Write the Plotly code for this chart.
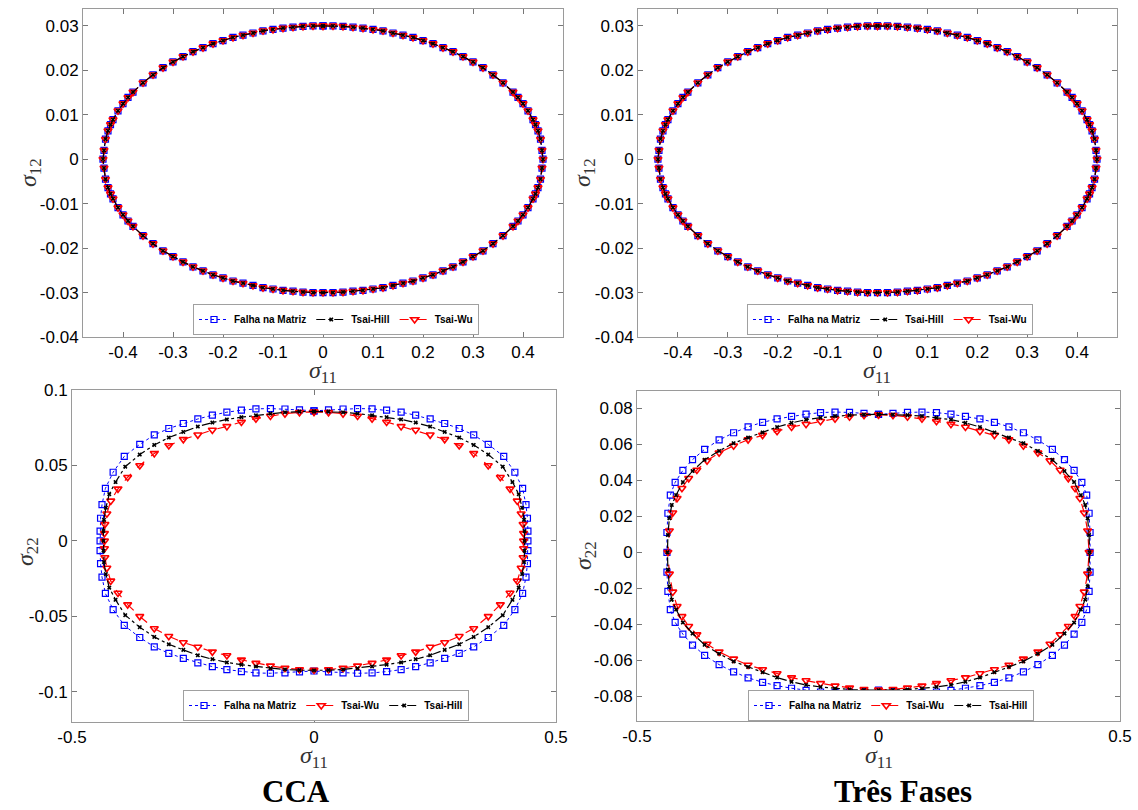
import plotly.graph_objects as go

# ---------------- data ----------------
# Top panels: sigma11 vs sigma12 envelope (the three criteria coincide)
s11_top = [0, .02, .04, .06, .08, .10, .12, .14, .16, .18, .20, .22, .24, .26, .28, .30, .32, .34, .36, .38, .39, .40, .41, .42, .425, .43, .435, .438, .44,
           .438, .435, .43, .425, .42, .41, .40, .39, .38, .36, .34, .32, .30, .28, .26, .24, .22, .20, .18, .16, .14, .12, .10, .08, .06, .04, .02, 0,
           -.02, -.04, -.06, -.08, -.10, -.12, -.14, -.16, -.18, -.20, -.22, -.24, -.26, -.28, -.30, -.32, -.34, -.36, -.38, -.39, -.40, -.41, -.42, -.425, -.43, -.435, -.438, -.44,
           -.438, -.435, -.43, -.425, -.42, -.41, -.40, -.39, -.38, -.36, -.34, -.32, -.30, -.28, -.26, -.24, -.22, -.20, -.18, -.16, -.14, -.12, -.10, -.08, -.06, -.04, -.02, 0]
s12_top = [.0300, .0300, .0299, .0297, .0295, .0292, .0289, .0284, .0279, .0274, .0267, .0260, .0251, .0242, .0231, .0219, .0206, .0190, .0172, .0151, .0139, .0125, .0109, .0089, .0078, .0064, .0045, .0020, 0,
           -.0020, -.0045, -.0064, -.0078, -.0089, -.0109, -.0125, -.0139, -.0151, -.0172, -.0190, -.0206, -.0219, -.0231, -.0242, -.0251, -.0260, -.0267, -.0274, -.0279, -.0284, -.0289, -.0292, -.0295, -.0297, -.0299, -.0300, -.0300,
           -.0300, -.0299, -.0297, -.0295, -.0292, -.0289, -.0284, -.0279, -.0274, -.0267, -.0260, -.0251, -.0242, -.0231, -.0219, -.0206, -.0190, -.0172, -.0151, -.0139, -.0125, -.0109, -.0089, -.0078, -.0064, -.0045, -.0020, 0,
           .0020, .0045, .0064, .0078, .0089, .0109, .0125, .0139, .0151, .0172, .0190, .0206, .0219, .0231, .0242, .0251, .0260, .0267, .0274, .0279, .0284, .0289, .0292, .0295, .0297, .0299, .0300, .0300]

# Bottom-left (CCA): sigma11 vs sigma22
cca_fm_s11 = [0, .03, .06, .09, .12, .15, .18, .21, .24, .27, .30, .33, .36, .392, .415, .431, .438, .441, .442, .442,
              .442, .441, .438, .431, .415, .392, .36, .33, .30, .27, .24, .21, .18, .15, .12, .09, .06, .03, 0,
              -.03, -.06, -.09, -.12, -.15, -.18, -.21, -.24, -.27, -.30, -.33, -.36, -.392, -.415, -.431, -.438, -.441, -.442, -.442,
              -.442, -.441, -.438, -.431, -.415, -.392, -.36, -.33, -.30, -.27, -.24, -.21, -.18, -.15, -.12, -.09, -.06, -.03, 0]
cca_fm_s22 = [.0862, .0868, .0874, .0877, .0875, .0866, .0853, .0833, .0808, .0778, .0745, .0702, .0640, .0560, .0455, .0348, .0240, .0150, .0065, 0,
              -.0065, -.0150, -.0240, -.0348, -.0455, -.0560, -.0640, -.0702, -.0745, -.0778, -.0808, -.0833, -.0853, -.0866, -.0875, -.0877, -.0874, -.0868, -.0862,
              -.0868, -.0874, -.0877, -.0875, -.0866, -.0853, -.0833, -.0808, -.0778, -.0745, -.0702, -.0640, -.0560, -.0455, -.0348, -.0240, -.0150, -.0065, 0,
              .0065, .0150, .0240, .0348, .0455, .0560, .0640, .0702, .0745, .0778, .0808, .0833, .0853, .0866, .0875, .0877, .0874, .0868, .0862]

cca_th_s11 = [0, .03, .06, .09, .12, .15, .18, .21, .24, .27, .30, .33, .36, .39, .41, .423, .430, .434, .435, .435,
              .435, .434, .430, .423, .41, .39, .36, .33, .30, .27, .24, .21, .18, .15, .12, .09, .06, .03, 0,
              -.03, -.06, -.09, -.12, -.15, -.18, -.21, -.24, -.27, -.30, -.33, -.36, -.39, -.41, -.423, -.430, -.434, -.435, -.435,
              -.435, -.434, -.430, -.423, -.41, -.39, -.36, -.33, -.30, -.27, -.24, -.21, -.18, -.15, -.12, -.09, -.06, -.03, 0]
cca_th_s22 = [.0858, .0857, .0852, .0844, .0832, .0820, .0805, .0784, .0758, .0722, .0685, .0636, .0572, .0492, .0390, .0310, .0220, .0140, .0065, 0,
              -.0065, -.0140, -.0220, -.0310, -.0390, -.0492, -.0572, -.0636, -.0685, -.0722, -.0758, -.0784, -.0805, -.0820, -.0832, -.0844, -.0852, -.0857, -.0858,
              -.0857, -.0852, -.0844, -.0832, -.0820, -.0805, -.0784, -.0758, -.0722, -.0685, -.0636, -.0572, -.0492, -.0390, -.0310, -.0220, -.0140, -.0065, 0,
              .0065, .0140, .0220, .0310, .0390, .0492, .0572, .0636, .0685, .0722, .0758, .0784, .0805, .0820, .0832, .0844, .0852, .0857, .0858]

cca_tw_s11 = [0, .03, .06, .09, .12, .15, .18, .21, .24, .27, .30, .33, .36, .385, .405, .420, .428, .432, .433, .433,
              .433, .432, .428, .420, .405, .385, .36, .33, .30, .27, .24, .21, .18, .15, .12, .09, .06, .03, 0,
              -.03, -.06, -.09, -.12, -.15, -.18, -.21, -.24, -.27, -.30, -.33, -.36, -.385, -.405, -.420, -.428, -.432, -.433, -.433,
              -.433, -.432, -.428, -.420, -.405, -.385, -.36, -.33, -.30, -.27, -.24, -.21, -.18, -.15, -.12, -.09, -.06, -.03, 0]
cca_tw_s22 = [.0855, .0852, .0843, .0828, .0810, .0788, .0759, .0735, .0703, .0673, .0632, .0580, .0500, .0422, .0345, .0265, .0180, .0110, .0050, 0,
              -.0050, -.0110, -.0180, -.0265, -.0345, -.0422, -.0500, -.0580, -.0632, -.0673, -.0703, -.0735, -.0759, -.0788, -.0810, -.0828, -.0843, -.0852, -.0855,
              -.0852, -.0843, -.0828, -.0810, -.0788, -.0759, -.0735, -.0703, -.0673, -.0632, -.0580, -.0500, -.0422, -.0345, -.0265, -.0180, -.0110, -.0050, 0,
              .0050, .0110, .0180, .0265, .0345, .0422, .0500, .0580, .0632, .0673, .0703, .0735, .0759, .0788, .0810, .0828, .0843, .0852, .0855]

# Bottom-right (Três Fases): sigma11 vs sigma22
tf_fm_s11 = [0, .03, .06, .09, .12, .15, .18, .21, .24, .27, .30, .33, .36, .385, .405, .421, .431, .436, .438, .438,
             .438, .436, .431, .421, .405, .385, .36, .33, .30, .27, .24, .21, .18, .15, .12, .09, .06, .03, 0,
             -.03, -.06, -.09, -.12, -.15, -.18, -.21, -.24, -.27, -.30, -.33, -.36, -.385, -.405, -.421, -.431, -.436, -.438, -.438,
             -.438, -.436, -.431, -.421, -.405, -.385, -.36, -.33, -.30, -.27, -.24, -.21, -.18, -.15, -.12, -.09, -.06, -.03, 0]
tf_fm_s22 = [.0766, .0772, .0777, .0779, .0776, .0767, .0755, .0741, .0722, .0697, .0664, .0624, .0572, .0515, .0455, .0389, .0318, .0217, .0110, 0,
             -.0110, -.0217, -.0318, -.0389, -.0455, -.0515, -.0572, -.0624, -.0664, -.0697, -.0722, -.0741, -.0755, -.0767, -.0776, -.0779, -.0777, -.0772, -.0766,
             -.0772, -.0777, -.0779, -.0776, -.0767, -.0755, -.0741, -.0722, -.0697, -.0664, -.0624, -.0572, -.0515, -.0455, -.0389, -.0318, -.0217, -.0110, 0,
             .0110, .0217, .0318, .0389, .0455, .0515, .0572, .0624, .0664, .0697, .0722, .0741, .0755, .0767, .0776, .0779, .0777, .0772, .0766]

tf_th_s11 = [0, .03, .06, .09, .12, .15, .18, .21, .24, .27, .30, .33, .36, .385, .405, .419, .428, .433, .436, .437,
             .436, .433, .428, .419, .405, .385, .36, .33, .30, .27, .24, .21, .18, .15, .12, .09, .06, .03, 0,
             -.03, -.06, -.09, -.12, -.15, -.18, -.21, -.24, -.27, -.30, -.33, -.36, -.385, -.405, -.419, -.428, -.433, -.436, -.437,
             -.436, -.433, -.428, -.419, -.405, -.385, -.36, -.33, -.30, -.27, -.24, -.21, -.18, -.15, -.12, -.09, -.06, -.03, 0]
tf_th_s22 = [.0766, .0765, .0762, .0757, .0748, .0737, .0719, .0696, .0666, .0637, .0606, .0563, .0514, .0451, .0390, .0318, .0263, .0189, .0096, 0,
             -.0096, -.0189, -.0263, -.0318, -.0390, -.0451, -.0514, -.0563, -.0606, -.0637, -.0666, -.0696, -.0719, -.0737, -.0748, -.0757, -.0762, -.0765, -.0766,
             -.0765, -.0762, -.0757, -.0748, -.0737, -.0719, -.0696, -.0666, -.0637, -.0606, -.0563, -.0514, -.0451, -.0390, -.0318, -.0263, -.0189, -.0096, 0,
             .0096, .0189, .0263, .0318, .0390, .0451, .0514, .0563, .0606, .0637, .0666, .0696, .0719, .0737, .0748, .0757, .0762, .0765, .0766]

tf_tw_s11 = [0, .03, .06, .09, .12, .15, .18, .21, .24, .27, .30, .33, .355, .376, .393, .407, .417, .426, .433, .436,
             .433, .426, .417, .407, .393, .376, .355, .33, .30, .27, .24, .21, .18, .15, .12, .09, .06, .03, 0,
             -.03, -.06, -.09, -.12, -.15, -.18, -.21, -.24, -.27, -.30, -.33, -.355, -.376, -.393, -.407, -.417, -.426, -.433, -.436,
             -.433, -.426, -.417, -.407, -.393, -.376, -.355, -.33, -.30, -.27, -.24, -.21, -.18, -.15, -.12, -.09, -.06, -.03, 0]
tf_tw_s22 = [.0764, .0761, .0753, .0742, .0728, .0712, .0696, .0673, .0651, .0626, .0592, .0553, .0509, .0457, .0411, .0356, .0300, .0220, .0120, 0,
             -.0120, -.0220, -.0300, -.0356, -.0411, -.0457, -.0509, -.0553, -.0592, -.0626, -.0651, -.0673, -.0696, -.0712, -.0728, -.0742, -.0753, -.0761, -.0764,
             -.0761, -.0753, -.0742, -.0728, -.0712, -.0696, -.0673, -.0651, -.0626, -.0592, -.0553, -.0509, -.0457, -.0411, -.0356, -.0300, -.0220, -.0120, 0,
             .0120, .0220, .0300, .0356, .0411, .0457, .0509, .0553, .0592, .0626, .0651, .0673, .0696, .0712, .0728, .0742, .0753, .0761, .0764]

# Tick values / labels
top_xticks = [-0.4, -0.3, -0.2, -0.1, 0, 0.1, 0.2, 0.3, 0.4]
top_xlabels = ["-0.4", "-0.3", "-0.2", "-0.1", "0", "0.1", "0.2", "0.3", "0.4"]
top_yticks = [-0.04, -0.03, -0.02, -0.01, 0, 0.01, 0.02, 0.03]
top_ylabels = ["-0.04", "-0.03", "-0.02", "-0.01", "0", "0.01", "0.02", "0.03"]
bot_xticks = [-0.5, 0, 0.5]
bot_xlabels = ["-0.5", "0", "0.5"]
bl_yticks = [-0.1, -0.05, 0, 0.05, 0.1]
bl_ylabels = ["-0.1", "-0.05", "0", "0.05", "0.1"]
br_yticks = [-0.08, -0.06, -0.04, -0.02, 0, 0.02, 0.04, 0.06, 0.08]
br_ylabels = ["-0.08", "-0.06", "-0.04", "-0.02", "0", "0.02", "0.04", "0.06", "0.08"]

names = {"fm": "Falha na Matriz", "th": "Tsai-Hill", "tw": "Tsai-Wu"}
captions = ["CCA", "Três Fases"]
x_title = "<i>σ</i><sub>11</sub>"
y_titles = ["<i>σ</i><sub>12</sub>", "<i>σ</i><sub>12</sub>", "<i>σ</i><sub>22</sub>", "<i>σ</i><sub>22</sub>"]

# ---------------- styles ----------------
BLUE, RED, BLACK = "#0000ff", "#ff0000", "#000000"
sty = {
    "fm": dict(line=dict(color=BLUE, width=1, dash="dot"),
               marker=dict(symbol="square-open", size=6, color=BLUE, line=dict(width=1.2, color=BLUE))),
    "tw": dict(line=dict(color=RED, width=1.2, dash="dash"),
               marker=dict(symbol="triangle-down-open", size=7, color=RED, line=dict(width=1.6, color=RED))),
    "th": dict(line=dict(color=BLACK, width=1.2, dash="dashdot"),
               marker=dict(symbol="x", size=4, color=BLACK)),
}

fig = go.Figure()

def add(key, xs, ys, ax, leg, rank):
    suffix = "" if ax == 1 else str(ax)
    fig.add_trace(go.Scatter(
        x=xs, y=ys, mode="lines+markers", name=names[key],
        xaxis="x" + suffix, yaxis="y" + suffix,
        legend=leg, legendrank=rank, **sty[key]))

# top-left & top-right (legend order: Falha, Tsai-Hill, Tsai-Wu)
for ax, leg in [(1, "legend"), (2, "legend2")]:
    add("fm", s11_top, s12_top, ax, leg, 1)
    add("tw", s11_top, s12_top, ax, leg, 3)
    add("th", s11_top, s12_top, ax, leg, 2)

# bottom-left (legend order: Falha, Tsai-Wu, Tsai-Hill)
add("fm", cca_fm_s11, cca_fm_s22, 3, "legend3", 1)
add("tw", cca_tw_s11, cca_tw_s22, 3, "legend3", 2)
add("th", cca_th_s11, cca_th_s22, 3, "legend3", 3)
# bottom-right
add("fm", tf_fm_s11, tf_fm_s22, 4, "legend4", 1)
add("tw", tf_tw_s11, tf_tw_s22, 4, "legend4", 2)
add("th", tf_th_s11, tf_th_s22, 4, "legend4", 3)

W, H = 1138, 810
def px_x(a, b):
    return [a / W, b / W]
def px_y(top, bottom):
    return [1 - bottom / H, 1 - top / H]

tickfont = dict(family="Liberation Sans, Arial, sans-serif", size=17, color="#000")
titlefont = dict(family="Liberation Serif, DejaVu Serif, serif", size=24, color="#333")

def axis(domain, rng, tv, tt, anchor):
    return dict(domain=domain, range=rng, tickvals=tv, ticktext=tt, anchor=anchor,
                showline=True, linecolor="#9a9a9a", linewidth=1, mirror="ticks",
                ticks="inside", ticklen=5, tickcolor="#777", tickwidth=1,
                showgrid=False, zeroline=False, tickfont=tickfont, automargin=False)

layout = dict(
    width=W, height=H, margin=dict(l=0, r=0, t=0, b=0, autoexpand=False),
    paper_bgcolor="white", plot_bgcolor="white", showlegend=True,
    xaxis=axis(px_x(83, 563), [-0.48, 0.48], top_xticks, top_xlabels, "y"),
    yaxis=axis(px_y(9, 337), [-0.04, 0.0338], top_yticks, top_ylabels, "x"),
    xaxis2=axis(px_x(638, 1117), [-0.48, 0.48], top_xticks, top_xlabels, "y2"),
    yaxis2=axis(px_y(9, 337), [-0.04, 0.0338], top_yticks, top_ylabels, "x2"),
    xaxis3=axis(px_x(72, 556), [-0.5, 0.5], bot_xticks, bot_xlabels, "y3"),
    yaxis3=axis(px_y(390, 722), [-0.12, 0.1], bl_yticks, bl_ylabels, "x3"),
    xaxis4=axis(px_x(637, 1120), [-0.5, 0.5], bot_xticks, bot_xlabels, "y4"),
    yaxis4=axis(px_y(391, 721), [-0.0937, 0.0896], br_yticks, br_ylabels, "x4"),
)

legfont = dict(family="Liberation Sans, Arial, sans-serif", size=10, color="#000", weight="bold")
def legend(x0, ybottom):
    return dict(orientation="h", x=x0 / W, y=1 - ybottom / H, xanchor="left", yanchor="bottom",
                bgcolor="white", bordercolor="#a0a0a0", borderwidth=1, font=legfont,
                itemwidth=30, tracegroupgap=0, traceorder="normal")
layout["legend"] = legend(193, 335)
layout["legend2"] = legend(747, 335)
layout["legend3"] = legend(183, 721)
layout["legend4"] = legend(748, 721)

capfont = dict(family="Liberation Serif, Times New Roman, serif", size=31, color="#000", weight="bold")

def ann(text, xpx, ypx, font, angle=0):
    return dict(text=text, x=xpx / W, y=1 - ypx / H, xref="paper", yref="paper", showarrow=False,
                xanchor="center", yanchor="middle", font=font, textangle=angle)

layout["annotations"] = [
    ann(captions[0], 296, 791, capfont),
    ann(captions[1], 903, 791, capfont),
    ann(x_title, 323, 372, titlefont),
    ann(x_title, 877, 372, titlefont),
    ann(x_title, 314, 757, titlefont),
    ann(x_title, 879, 757, titlefont),
    ann(y_titles[0], 30, 173, titlefont, -90),
    ann(y_titles[1], 584, 173, titlefont, -90),
    ann(y_titles[2], 27, 552, titlefont, -90),
    ann(y_titles[3], 585, 556, titlefont, -90),
]
fig.update_layout(**layout)
fig.write_html("out.html", config={"displayModeBar": False},
               post_script="document.body.style.margin='0';document.body.style.overflow='hidden';")
